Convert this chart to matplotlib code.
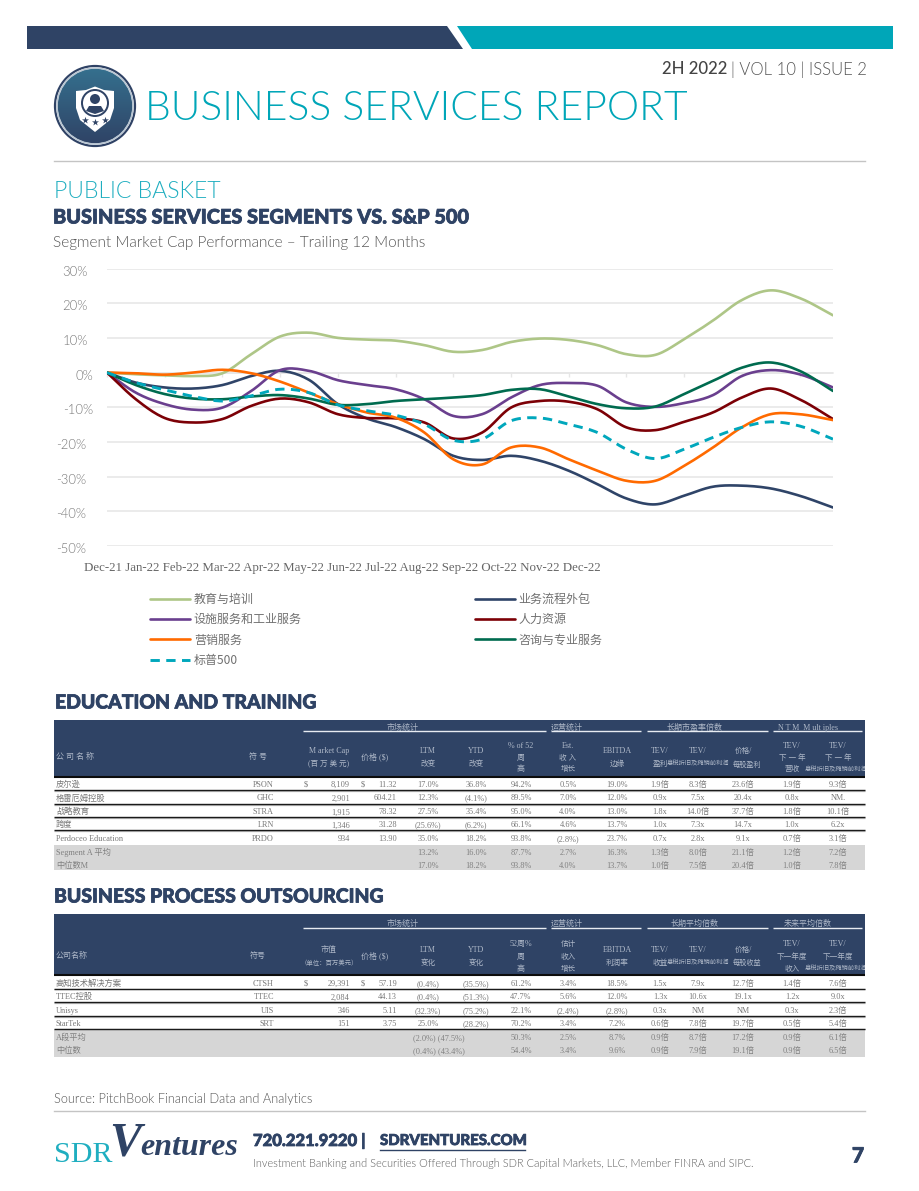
import numpy as np
import matplotlib
matplotlib.use("Agg")
import matplotlib.pyplot as plt
import matplotlib.patheffects as pe
from matplotlib.patches import Rectangle, Polygon, Circle
from matplotlib.transforms import ScaledTranslation

W, H = 920, 1191
SANS = ["Lato", "Noto Sans CJK SC", "DejaVu Sans"]
SERIF = ["Liberation Serif", "Noto Sans CJK SC", "DejaVu Sans"]
CJK = ["Noto Sans CJK SC", "Liberation Serif"]
NAVY = "#2F4365"
TEAL = "#00A6B8"

# ---------- chart data (percent, read every half tick) ----------
periods = list(np.arange(0, 12.5, 0.5)) + [12.58]
education = [0, -0.5, -0.8, -1, -0.2, 5.3, 10.4, 11.5, 10, 9.5, 9.2, 7.9, 6.0,
             6.5, 8.8, 9.8, 9.4, 7.9, 5.3, 5.1, 9.6, 15, 20.9, 23.7, 21.5, 16.5]
bpo = [0, -2.9, -4.3, -4.6, -3.6, -1, 0.5, -2.1, -9.1, -13.2, -15.7, -19.2, -24,
       -25.2, -24, -25.4, -28.3, -32.2, -36.3, -38, -35.5, -32.9, -32.6, -33.4, -35.5, -38.9]
facilities = [0, -5.8, -9.1, -10.7, -10.1, -5.3, 0.7, 0.5, -2.2, -3.6, -4.8, -7.7, -12.5,
              -12, -7.2, -3.6, -3, -3.8, -8.6, -9.9, -8.8, -6.5, -1, 0.7, -0.5, -4.3]
hr = [0, -7.7, -13.1, -14.4, -13.4, -9.6, -7.5, -8.6, -12, -13.1, -13.2, -14.4, -19,
      -17.3, -10.1, -8.2, -8.4, -10.6, -15.8, -16.6, -14.2, -11.5, -7.2, -4.6, -7.7, -13.4]
marketing = [0, -0.2, -0.6, 0, 0.8, -0.2, -2.6, -5.8, -9.1, -11.5, -13, -17.3, -25,
             -26.5, -21.6, -21.6, -25, -28.3, -31.2, -31.2, -26.9, -21.6, -15.8, -12, -12, -13.7]
consulting = [0, -3.6, -6.2, -7.5, -7.7, -6.9, -6.5, -7.5, -9.3, -9.1, -8.2, -7.7, -7.2,
              -6.5, -5, -4.8, -6.9, -9.1, -10.3, -9.8, -6.2, -2.4, 1.4, 2.9, 0.5, -5.3]
sp500 = [0, -2.9, -5, -6.9, -8.2, -6.7, -4.8, -5.8, -9.3, -11, -12.3, -14.9, -19.5,
         -19.2, -13.9, -13.1, -14.9, -17.3, -22.1, -24.8, -22.1, -18.7, -15.8, -14.2, -15.4, -19.2]
months = ["Dec-21", "Jan-22", "Feb-22", "Mar-22", "Apr-22", "May-22", "Jun-22",
          "Jul-22", "Aug-22", "Sep-22", "Oct-22", "Nov-22", "Dec-22"]
y_ticks = [30, 20, 10, 0, -10, -20, -30, -40, -50]

# ---------- table data ----------
t1_names = ["皮尔逊", "格雷厄姆控股", "战略教育", "跨度", "Perdoceo Education"]
t1_tickers = ["PSON", "GHC", "STRA", "LRN", "PRDO"]
t1_caps = ["8,109", "2,901", "1,915", "1,346", "934"]
t1_prices = ["11.32", "604.21", "78.32", "31.28", "13.90"]
t1_stats = [
    ["17.0%", "36.8%", "94.2%", "0.5%", "19.0%", "1.9倍", "8.3倍", "23.6倍", "1.9倍", "9.3倍"],
    ["12.3%", "(4.1%)", "89.5%", "7.0%", "12.0%", "0.9x", "7.5x", "20.4x", "0.8x", "NM."],
    ["27.5%", "35.4%", "95.0%", "4.0%", "13.0%", "1.8x", "14.0倍", "37.7倍", "1.8倍", "10.1倍"],
    ["(25.6%)", "(6.2%)", "66.1%", "4.6%", "13.7%", "1.0x", "7.3x", "14.7x", "1.0x", "6.2x"],
    ["35.0%", "18.2%", "93.8%", "(2.8%)", "23.7%", "0.7x", "2.8x", "9.1x", "0.7倍", "3.1倍"],
]
t1_sum_names = ["Segment A 平均", "中位数M"]
t1_sums = [
    ["13.2%", "16.0%", "87.7%", "2.7%", "16.3%", "1.3倍", "8.0倍", "21.1倍", "1.2倍", "7.2倍"],
    ["17.0%", "18.2%", "93.8%", "4.0%", "13.7%", "1.0倍", "7.5倍", "20.4倍", "1.0倍", "7.8倍"],
]
t1_groups = ["市场统计", "运营统计", "长期市盈率倍数", "N T M  M ult iples"]
LONG_EBITDA = "息税折旧及摊销前利润"
t1_head = {
    "name": "公 司 名 称", "ticker": "符 号", "cap": ["M arket Cap", "(百 万 美 元)"], "price": "价格 ($)",
    "cols": [["LTM", "改变"], ["YTD", "改变"], ["% of 52", "周", "高"], ["Est.", "收 入", "增长"],
             ["EBITDA", "边缘"], ["TEV/", "盈利"], ["TEV/", LONG_EBITDA], ["价格/", "每股盈利"],
             ["TEV/", "下 一 年", "营收"], ["TEV/", "下 一 年", LONG_EBITDA]],
}
t2_names = ["高知技术解决方案", "TTEC控股", "Unisys", "StarTek"]
t2_tickers = ["CTSH", "TTEC", "UIS", "SRT"]
t2_caps = ["29,391", "2,084", "346", "151"]
t2_prices = ["57.19", "44.13", "5.11", "3.75"]
t2_stats = [
    ["(0.4%)", "(35.5%)", "61.2%", "3.4%", "18.5%", "1.5x", "7.9x", "12.7倍", "1.4倍", "7.6倍"],
    ["(0.4%)", "(51.3%)", "47.7%", "5.6%", "12.0%", "1.3x", "10.6x", "19.1x", "1.2x", "9.0x"],
    ["(32.3%)", "(75.2%)", "22.1%", "(2.4%)", "(2.8%)", "0.3x", "NM", "NM", "0.3x", "2.3倍"],
    ["25.0%", "(28.2%)", "70.2%", "3.4%", "7.2%", "0.6倍", "7.8倍", "19.7倍", "0.5倍", "5.4倍"],
]
t2_sum_names = ["A段平均", "中位数"]
t2_sums = [
    ["(2.0%) (47.5%)", "", "50.3%", "2.5%", "8.7%", "0.9倍", "8.7倍", "17.2倍", "0.9倍", "6.1倍"],
    ["(0.4%) (43.4%)", "", "54.4%", "3.4%", "9.6%", "0.9倍", "7.9倍", "19.1倍", "0.9倍", "6.5倍"],
]
t2_groups = ["市场统计", "运营统计", "长期平均倍数", "未来平均倍数"]
t2_head = {
    "name": "公司名称", "ticker": "符号", "cap": ["市值", "（单位：百万美元）"], "price": "价格 ($)",
    "cols": [["LTM", "变化"], ["YTD", "变化"], ["52周%", "周", "高"], ["估计", "收入", "增长"],
             ["EBITDA", "利润率"], ["TEV/", "收益"], ["TEV/", LONG_EBITDA], ["价格/", "每股收益"],
             ["TEV/", "下一年度", "收入"], ["TEV/", "下一年度", LONG_EBITDA]],
}

# ---------- page canvas in pixel coordinates ----------
fig = plt.figure(figsize=(W / 100, H / 100), dpi=100, facecolor="white")
pg = fig.add_axes([0, 0, 1, 1], zorder=0)
pg.set_xlim(0, W)
pg.set_ylim(H, 0)
pg.axis("off")


def px(size):
    return size * 0.72


def T(x, y, s, size=8.3, color="#787878", ha="center", va="center", family=SERIF, **kw):
    return pg.text(x, y, s, fontsize=px(size), color=color, ha=ha, va=va, family=family, **kw)


def heavy(t, w=0.55):
    t.set_path_effects([pe.withStroke(linewidth=w, foreground=t.get_color())])
    return t


# banner
pg.add_patch(Polygon([(27, 26), (447, 26), (463, 49), (27, 49)], fc=NAVY, ec="none"))
pg.add_patch(Polygon([(457, 26), (893, 26), (893, 49), (472, 49)], fc=TEAL, ec="none"))
T(727, 69.5, "2H 2022", 16.7, "#444444", ha="right", family=SANS, fontweight="medium")
T(731, 69.5, "| VOL 10 | ISSUE 2", 16.7, "#555555", ha="left", family=SANS, fontweight=300)

# logo
grad = np.linspace(0, 1, 64)[:, None]
img = pg.imshow(grad, extent=(55, 135, 146, 66), aspect="auto", zorder=2,
                cmap=matplotlib.colors.LinearSegmentedColormap.from_list("g", ["#35718F", "#2F4265"]))
pg.set_xlim(0, W)
pg.set_ylim(H, 0)
clip = Circle((95, 106), 37.5, transform=pg.transData)
img.set_clip_path(clip)
pg.add_patch(Circle((95, 106), 40, fc="none", ec="#2F4265", lw=1.6, zorder=2))
pg.add_patch(Circle((95, 106), 38, fc="none", ec="#B9C6D2", lw=1.2, zorder=2))
pg.add_patch(Polygon([(76, 91), (86, 90), (95, 86.5), (104, 90), (114, 91), (114, 108),
                      (110, 120), (95, 132), (80, 120), (76, 108)], fc="white", ec="none", zorder=3))
pg.add_patch(Circle((95, 103), 14, fc=NAVY, ec="none", zorder=4))
pg.add_patch(Circle((95, 103), 12, fc="white", ec="none", zorder=4))
pg.add_patch(Circle((95, 99), 5, fc=NAVY, ec="none", zorder=5))
pg.add_patch(Polygon([(86, 111), (89, 106), (101, 106), (104, 111), (95, 114)], fc=NAVY, ec="none", zorder=5))
pg.scatter([85, 95, 105], [120, 122, 120], marker="*", s=28, c=NAVY, linewidths=0, zorder=5)

T(145, 109, "BUSINESS SERVICES REPORT", 40.9, TEAL, ha="left", family=SANS, fontweight=300)
pg.plot([54, 865], [161, 161], color="#C4C4C4", lw=1)
T(54, 192, "PUBLIC BASKET", 23, "#1FAEC0", ha="left", family=SANS, fontweight=300)
heavy(T(53, 217, "BUSINESS SERVICES SEGMENTS VS. S&P 500", 19.9, NAVY, ha="left", family=SANS, fontweight="black"))
T(53, 243, "Segment Market Cap Performance – Trailing 12 Months", 15.4, "#555555", ha="left", family=SANS, fontweight=300)

# ---------- chart ----------
L, R, TOP, BOT = 107, 833, 268.5, 546
ax = fig.add_axes([L / W, 1 - BOT / H, (R - L) / W, (BOT - TOP) / H], zorder=2)
ax.patch.set_alpha(0)


def smooth(x, y, n=12):
    """Draw-through cubic Hermite rendering of the read values (Excel-style smoothed line)."""
    x, y = np.asarray(x, float), np.asarray(y, float)
    m = np.gradient(y, x)
    xs, ys = [], []
    for i in range(len(x) - 1):
        h = x[i + 1] - x[i]
        t = np.linspace(0, 1, n, endpoint=False)
        xs.append(x[i] + t * h)
        ys.append((2*t**3 - 3*t**2 + 1) * y[i] + (t**3 - 2*t**2 + t) * h * m[i]
                  + (-2*t**3 + 3*t**2) * y[i + 1] + (t**3 - t**2) * h * m[i + 1])
    return np.r_[np.concatenate(xs), x[-1]], np.r_[np.concatenate(ys), y[-1]]


LW = 1.9
series = {
    "education": (education, "教育与培训", "#AEC687"),
    "bpo": (bpo, "业务流程外包", "#2F4468"),
    "facilities": (facilities, "设施服务和工业服务", "#6A3F8E"),
    "hr": (hr, "人力资源", "#7C0006"),
    "marketing": (marketing, "营销服务", "#FF6A00"),
    "consulting": (consulting, "咨询与专业服务", "#006B4F"),
    "sp500": (sp500, "标普500", "#00A7BC"),
}
handles = {}
for key, (vals, label, col) in series.items():
    sx, sy = smooth(periods, vals)
    ls = (0, (3.2, 2.2)) if key == "sp500" else "-"
    handles[key], = ax.plot(sx, sy, color=col, lw=2.1 if key == "sp500" else LW,
                            ls=ls, label=label, solid_capstyle="round", dash_capstyle="butt", zorder=3)
ax.set_xlim(0, 12.58)
ax.set_ylim(-50, 30)
ax.set_yticks(y_ticks)
ax.set_yticklabels([f"{v}%" for v in y_ticks], family=SANS, fontsize=px(13), color="#777777", fontweight=300)
ax.tick_params(axis="y", length=0, pad=0)
for v, lab in zip(y_ticks, ax.get_yticklabels()):
    right = 93 if v in (0, -10) else (88 if v > 0 else 86)
    lab.set_transform(lab.get_transform() + ScaledTranslation((right - L) / 100, -2 / 100, fig.dpi_scale_trans))
ax.grid(axis="y", color="#E6E6E6", lw=1.1, zorder=0)
ax.set_axisbelow(True)
for s in ("top", "right", "left"):
    ax.spines[s].set_visible(False)
ax.spines["bottom"].set_position(("data", 0))
ax.spines["bottom"].set_color("#E6E6E6")
ax.spines["bottom"].set_linewidth(1.1)
ax.set_xticks(np.arange(0, 13))
ax.tick_params(axis="x", length=3, color="#E6E6E6", width=1, labelbottom=False)

T(84, 567.5, " ".join(months), 12.95, "#666666", ha="left")

order = ["education", "facilities", "marketing", "sp500", "bpo", "hr", "consulting"]
leg = ax.legend([handles[k] for k in order], [series[k][1] for k in order], ncol=2,
                loc="upper left", bbox_to_anchor=(150 / W, 1 - 592.7 / H), bbox_transform=fig.transFigure,
                frameon=False, prop={"family": CJK, "size": px(12)}, labelcolor="#707070",
                handlelength=3.33, handletextpad=0.33, columnspacing=14.4, labelspacing=0.62,
                borderpad=0, borderaxespad=0)

# ---------- tables ----------
COLX = [428, 476, 521, 568, 617, 660, 698, 743, 792, 838]
LONG_LEFT = {6: 667, 9: 805}
GROUP_SPANS = [(303, 546), (551, 641), (647, 768), (773, 862)]
GROUP_CX = [403, 567, 695, 808]
X0, X1 = 54, 865


def B(x, y, s, **kw):
    """Table body text placed on a common baseline, so brackets do not shift it."""
    return T(x, y + 2.4, s, va="baseline", zorder=3, **kw)


def table(top, head_bot, line_y, label_y, head, groups, hy2, hy3, hname, names, tickers, caps, prices, stats,
          row_y, rule_y, grey_top, grey_bot, sum_names, sums, sum_y, left_first=False):
    hdr = Rectangle((X0, top), X1 - X0, head_bot - top, fc=NAVY, ec="none", zorder=1)
    pg.add_patch(hdr)
    pg.plot([X0, X1], [head_bot + 1, head_bot + 1], color="#0c0c0c", lw=1.5, zorder=2, solid_capstyle="butt")
    hc = "#AEB8C8"
    for (a, b), cx, g in zip(GROUP_SPANS, GROUP_CX, groups):
        pg.plot([a, b], [line_y, line_y], color="#E8ECF2", lw=1, zorder=3, solid_capstyle="butt")
        T(cx, label_y, g, 8, hc, zorder=3)
    T(56, hname, head["name"], 8, hc, ha="left", zorder=3)
    T(258, hname, head["ticker"], 8, hc, zorder=3)
    T(329, hy2[0], head["cap"][0], 8, hc, zorder=3)
    T(329, hy2[1], head["cap"][1], 6.4 if "单位" in head["cap"][1] else 7.6, hc, zorder=3)
    T(375, hname, head["price"], 8, hc, zorder=3)
    for k, (cx, lines) in enumerate(zip(COLX, head["cols"])):
        ys = hy2 if len(lines) == 2 else hy3
        for yy, s in zip(ys, lines):
            if s == LONG_EBITDA:
                t = T(LONG_LEFT[k], yy, s, 6.3, hc, ha="left", zorder=3)
                t.set_clip_path(hdr)
                t.set_clip_on(True)
            elif s in ("每股盈利", "每股收益"):
                T(747, yy, s, 7.2, hc, zorder=3)
            else:
                T(cx, yy, s, 7.6 if len(s) > 1 and ord(s[0]) > 255 else 8, hc, zorder=3)
    pg.add_patch(Rectangle((X0, grey_top), X1 - X0, grey_bot - grey_top, fc="#D6D6D6", ec="none", zorder=1))
    for i, y in enumerate(row_y):
        B(56, y, names[i], ha="left")
        B(274, y, tickers[i], ha="right")
        B(350, y, caps[i], ha="right")
        B(397, y, prices[i], ha="right")
        if i == 0:
            B(306, y, "$")
            B(363, y, "$")
        for cx, s in zip(COLX, stats[i]):
            B(cx, y, s)
    for y in rule_y:
        pg.plot([X0, X1], [y + 0.8, y + 0.8], color="#BDBDBD", lw=0.9, zorder=2, solid_capstyle="butt")
        pg.plot([X0, X1], [y, y], color="#1a1a1a", lw=1.0, zorder=2, solid_capstyle="butt")
    for j, y in enumerate(sum_y):
        B(56, y, sum_names[j], color="#808080", ha="left")
        for k, (cx, s) in enumerate(zip(COLX, sums[j])):
            if k == 0 and left_first:
                B(413, y, s, color="#808080", ha="left")
            elif s:
                B(cx, y, s, color="#808080")


heavy(T(55, 703, "EDUCATION AND TRAINING", 19.4, NAVY, ha="left", family=SANS, fontweight="black"))
table(720, 776, 731, 728, t1_head, t1_groups, (751, 764), (745.5, 758, 769.5), 757,
      t1_names, t1_tickers, t1_caps, t1_prices, t1_stats,
      [784.5, 798, 812, 825, 839], [789.7, 803.7, 817, 830.3], 844.5, 870,
      t1_sum_names, t1_sums, [853, 865.5])

heavy(T(54, 897, "BUSINESS PROCESS OUTSOURCING", 19.4, NAVY, ha="left", family=SANS, fontweight="black"))
table(914, 974, 928, 923.5, t2_head, t2_groups, (950, 962.5), (944, 957, 969), 956,
      t2_names, t2_tickers, t2_caps, t2_prices, t2_stats,
      [983.5, 997, 1010.5, 1024], [988.5, 1002, 1016, 1028.5], 1029.5, 1057,
      t2_sum_names, t2_sums, [1037.5, 1051], left_first=True)

# ---------- footer ----------
T(54, 1099, "Source: PitchBook Financial Data and Analytics", 12.7, "#555555", ha="left", family=SANS, fontweight=300)
pg.plot([54, 865], [1111, 1111], color="#C4C4C4", lw=1)
T(54, 1162, "SDR", 30, "#1FAEC0", ha="left", va="baseline", family=["Liberation Serif"])
T(109, 1155, "V", 48, NAVY, ha="left", va="baseline", family=["Liberation Serif"], fontweight="bold", fontstyle="italic")
T(140, 1155, "entures", 32, NAVY, ha="left", va="baseline", family=["Liberation Serif"], fontweight="bold", fontstyle="italic")
heavy(T(253, 1141, "720.221.9220 |", 16.6, NAVY, ha="left", family=SANS, fontweight="black"))
heavy(T(380, 1141, "SDRVENTURES.COM", 15, NAVY, ha="left", family=SANS, fontweight="black"))
pg.plot([380, 525], [1149.5, 1149.5], color=NAVY, lw=1)
T(253, 1163.5, "Investment Banking and Securities Offered Through SDR Capital Markets, LLC, Member FINRA and SIPC.",
  10.95, "#5F5F5F", ha="left", family=SANS, fontweight=300)
heavy(T(858, 1156, "7", 21, NAVY, family=SANS, fontweight="black"))

fig.savefig("out.png", dpi=100, facecolor="white")
